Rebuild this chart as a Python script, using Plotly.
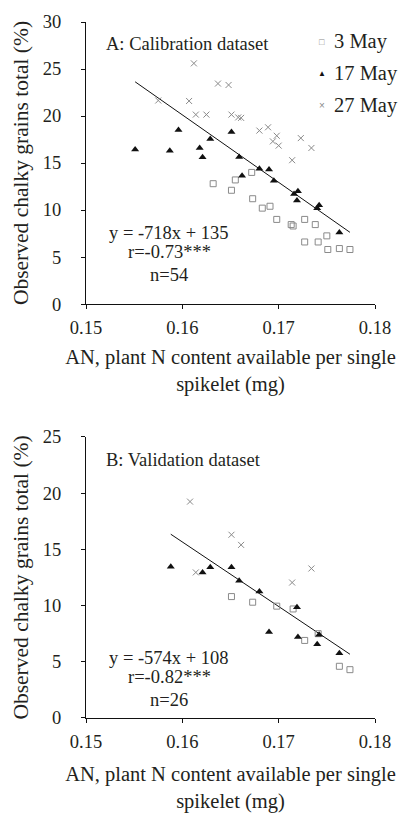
import plotly.graph_objects as go

# ---------------- Panel A: calibration dataset ----------------
a_may3_x = [0.1632, 0.1651, 0.1655, 0.1672, 0.1673, 0.1683, 0.1691, 0.1698, 0.1713,
            0.1715, 0.1727, 0.1738, 0.1727, 0.1741, 0.1750, 0.1751, 0.1763, 0.1774]
a_may3_y = [12.8, 12.1, 13.2, 14.0, 11.2, 10.2, 10.4, 9.0, 8.45,
            8.3, 9.0, 8.45, 6.6, 6.6, 7.25, 5.8, 5.9, 5.8]

a_may17_x = [0.1551, 0.1587, 0.1596, 0.1618, 0.1621, 0.1629, 0.1651, 0.1659, 0.1662,
             0.1680, 0.1690, 0.1695, 0.1716, 0.1720, 0.1719, 0.1742, 0.1740, 0.1763]
a_may17_y = [16.45, 16.3, 18.5, 16.6, 15.6, 17.55, 18.3, 15.65, 13.65,
             14.4, 14.3, 13.1, 11.7, 12.0, 11.0, 10.5, 10.2, 7.6]

a_may27_x = [0.1612, 0.1575, 0.1607, 0.1637, 0.1648, 0.1614, 0.1625, 0.1651, 0.1658,
             0.1661, 0.1680, 0.1689, 0.1698, 0.1694, 0.1700, 0.1723, 0.1734, 0.1714]
a_may27_y = [25.6, 21.65, 21.6, 23.45, 23.3, 20.15, 20.15, 20.15, 19.85,
             19.8, 18.45, 18.8, 17.9, 17.3, 16.85, 17.65, 16.6, 15.3]

a_fit_slope = -718
a_fit_intercept = 135
a_label = "A: Calibration dataset"
a_stats = ["y = -718x + 135", "r=-0.73***", "n=54"]

# ---------------- Panel B: validation dataset ----------------
b_may3_x = [0.1651, 0.1673, 0.1698, 0.1715, 0.1727, 0.1741, 0.1763, 0.1774]
b_may3_y = [10.8, 10.3, 9.95, 9.7, 6.9, 7.5, 4.6, 4.3]

b_may17_x = [0.1588, 0.1621, 0.1629, 0.1651, 0.1659, 0.1680, 0.1719, 0.1690,
             0.1720, 0.1742, 0.1740, 0.1763]
b_may17_y = [13.45, 12.95, 13.4, 13.4, 12.2, 11.25, 9.85, 7.65,
             7.2, 7.4, 6.55, 5.75]

b_may27_x = [0.1608, 0.1651, 0.1614, 0.1661, 0.1734, 0.1714]
b_may27_y = [19.25, 16.3, 12.95, 15.4, 13.3, 12.05]

b_fit_slope = -574
b_fit_intercept = 107.5
b_label = "B: Validation dataset"
b_stats = ["y = -574x + 108", "r=-0.82***", "n=26"]

series_names = ["3 May", "17 May", "27 May"]
legend_glyphs = ["\u25a1", "\u25b2", "\u00d7"]
x_ticks = [0.15, 0.16, 0.17, 0.18]
a_y_ticks = [0, 5, 10, 15, 20, 25, 30]
b_y_ticks = [0, 5, 10, 15, 20, 25]
x_title = "AN, plant N content available per single<br>spikelet (mg)"
y_title = "Observed chalky grains total (%)"

FONT = "Liberation Serif, Times New Roman, serif"
TXT = "#231f20"
GRAY = "#8a8a8a"
BLACK = "#111111"

styles = [
    dict(symbol="square-open", size=6, color=GRAY, line=dict(width=1, color=GRAY)),
    dict(symbol="triangle-up", size=7, color=BLACK, line=dict(width=0)),
    dict(symbol="x-thin-open", size=6, color=GRAY, line=dict(width=1, color=GRAY)),
]
glyph_colors = [GRAY, BLACK, GRAY]
glyph_sizes = [9, 8, 10]

fig = go.Figure()

panels = [
    ("x", "y", [(a_may3_x, a_may3_y), (a_may17_x, a_may17_y), (a_may27_x, a_may27_y)],
     a_fit_slope, a_fit_intercept),
    ("x2", "y2", [(b_may3_x, b_may3_y), (b_may17_x, b_may17_y), (b_may27_x, b_may27_y)],
     b_fit_slope, b_fit_intercept),
]

for xa, ya, series, slope, icpt in panels:
    all_x = [v for s in series for v in s[0]]
    xs = [min(all_x), max(all_x)]
    fig.add_trace(go.Scatter(x=xs, y=[slope * v + icpt for v in xs], mode="lines",
                             line=dict(color=BLACK, width=1), showlegend=False,
                             hoverinfo="skip", xaxis=xa, yaxis=ya))
    for (sx, sy), name, st in zip(series, series_names, styles):
        fig.add_trace(go.Scatter(x=sx, y=sy, mode="markers", name=name, marker=st,
                                 showlegend=False, xaxis=xa, yaxis=ya))

axis_common = dict(showline=True, linecolor=BLACK, linewidth=1, ticks="outside",
                   ticklen=4, tickcolor=BLACK, showgrid=False, zeroline=False,
                   tickfont=dict(family=FONT, size=18.5, color=TXT))

fig.update_layout(
    width=403, height=820,
    margin=dict(l=86, r=19, t=15, b=95),
    paper_bgcolor="white", plot_bgcolor="white",
    font=dict(family=FONT, color=TXT),
    showlegend=False,
    xaxis=dict(domain=[0, 1], anchor="y", range=[0.15, 0.18], tickvals=x_ticks,
               tickformat=".2f", ticklabelstandoff=3,
               title=dict(text=x_title, font=dict(family=FONT, size=20.5, color=TXT), standoff=12),
               **axis_common),
    yaxis=dict(domain=[0.5948, 1], anchor="x", range=[0, 30], tickvals=a_y_ticks,
               ticklabelstandoff=16,
               title=dict(text=y_title, font=dict(family=FONT, size=21.5, color=TXT), standoff=8),
               **axis_common),
    xaxis2=dict(domain=[0, 1], anchor="y2", range=[0.15, 0.18], tickvals=x_ticks,
                tickformat=".2f", ticklabelstandoff=3,
                title=dict(text=x_title, font=dict(family=FONT, size=20.5, color=TXT), standoff=15),
                **axis_common),
    yaxis2=dict(domain=[0, 0.4038], anchor="x2", range=[0, 25], tickvals=b_y_ticks,
                ticklabelstandoff=16,
                title=dict(text=y_title, font=dict(family=FONT, size=21.5, color=TXT), standoff=8),
                **axis_common),
)

# legend (top right of panel A), built as text
legend_rows_y = [0.930, 0.817, 0.703]   # in panel-A domain units
for name, glyph, gc, gs, ly in zip(series_names, legend_glyphs, glyph_colors, glyph_sizes,
                                   legend_rows_y):
    fig.add_annotation(xref="x domain", yref="y domain", x=0.8154, y=ly, text=glyph,
                       showarrow=False, xanchor="center", yanchor="middle",
                       font=dict(family="Liberation Sans, DejaVu Sans", size=gs, color=gc))
    fig.add_annotation(xref="x domain", yref="y domain", x=0.852, y=ly, text=name,
                       showarrow=False, xanchor="left", yanchor="middle",
                       font=dict(family=FONT, size=20.5, color=TXT))

ann_font = dict(family=FONT, size=18.5, color=TXT)
for xa, ya, label, stats, label_y, stat_ys in [
    ("x", "y", a_label, a_stats, 0.9235, [0.2527, 0.1832, 0.1043]),
    ("x2", "y2", b_label, b_stats, 0.9184, [0.2128, 0.1455, 0.0638]),
]:
    fig.add_annotation(xref=f"{xa} domain", yref=f"{ya} domain", x=0.0638, y=label_y,
                       text=label, showarrow=False, xanchor="left", yanchor="middle",
                       font=ann_font)
    for txt, yy in zip(stats, stat_ys):
        fig.add_annotation(xref=f"{xa} domain", yref=f"{ya} domain", x=0.2876, y=yy,
                           text=txt, showarrow=False, xanchor="center", yanchor="middle",
                           font=ann_font)

fig.write_html("out.html", config={"displayModeBar": False},
               post_script="document.body.style.margin='0';")
